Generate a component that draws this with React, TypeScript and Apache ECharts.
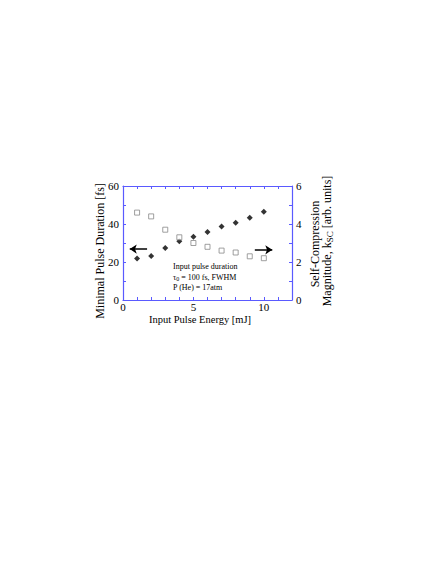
import React, { useEffect, useRef } from "react";
import * as echarts from "echarts";

const energies = [1, 2, 3, 4, 5, 6, 7, 8, 9, 10];
const pulseDuration = [21.9, 23.1, 27.4, 30.9, 33.3, 35.8, 38.7, 40.7, 43.3, 46.5];
const compression = [4.6, 4.4, 3.7, 3.3, 3.0, 2.8, 2.6, 2.5, 2.3, 2.2];
const leftArrow = [[1.71, 26.8], [0.48, 26.8]];
const rightArrow = [[9.36, 26.4], [10.6, 26.4]];

const FONT = "'Liberation Serif', 'DejaVu Serif', serif";
const BLUE = "#5a5aff";

export default function App() {
  const ref = useRef<HTMLDivElement>(null);
  useEffect(() => {
    const chart = echarts.init(ref.current!, null, { renderer: "svg" });
    const axisCommon = {
      axisLine: { show: true, onZero: false, lineStyle: { color: BLUE, width: 1.2 } },
      axisTick: { show: true, inside: true, length: 3, lineStyle: { color: BLUE } },
      splitLine: { show: false },
    };
    chart.setOption({
      animation: false,
      grid: { left: 123, top: 186, width: 169, height: 114 },
      xAxis: [
        {
          type: "value", min: 0, max: 12, interval: 1, position: "bottom",
          ...axisCommon,
          axisLabel: {
            color: "#000", fontFamily: FONT, fontSize: 11, margin: 1,
            formatter: (v: number) => (v % 5 === 0 ? String(v) : ""),
          },
        },
        {
          type: "value", min: 0, max: 12, interval: 1, position: "top",
          ...axisCommon, axisLabel: { show: false },
        },
      ],
      yAxis: [
        {
          type: "value", min: 0, max: 60, interval: 10, position: "left",
          ...axisCommon,
          axisLabel: {
            color: "#000", fontFamily: FONT, fontSize: 11, margin: 4,
            formatter: (v: number) => (v % 20 === 0 ? String(v) : ""),
          },
        },
        {
          type: "value", min: 0, max: 6, interval: 1, position: "right",
          ...axisCommon,
          axisLabel: {
            color: "#000", fontFamily: FONT, fontSize: 11, margin: 4,
            formatter: (v: number) => (v % 2 === 0 ? String(v) : ""),
          },
        },
      ],
      series: [
        {
          type: "scatter", xAxisIndex: 0, yAxisIndex: 0,
          data: energies.map((e, i) => [e, pulseDuration[i]]),
          symbol: "diamond", symbolSize: 6,
          itemStyle: { color: "#000" },
          markLine: {
            silent: true,
            symbol: ["none", "arrow"], symbolSize: [7, 7],
            lineStyle: { color: "#000", width: 1.5, type: "solid" },
            label: { show: false },
            data: [
              [{ coord: leftArrow[0] }, { coord: leftArrow[1] }],
              [{ coord: rightArrow[0] }, { coord: rightArrow[1] }],
            ],
          },
        },
        {
          type: "scatter", xAxisIndex: 0, yAxisIndex: 1,
          data: energies.map((e, i) => [e, compression[i]]),
          symbol: "rect", symbolSize: 5,
          itemStyle: { color: "#fff", borderColor: "#888", borderWidth: 1 },
        },
      ],
      graphic: [
        {
          type: "text", x: 200, y: 319,
          style: { text: "Input Pulse Energy [mJ]", fill: "#000", font: `10.5px ${FONT}`, align: "center", verticalAlign: "middle" },
        },
        {
          type: "text", x: 100, y: 251, rotation: Math.PI / 2,
          style: { text: "Minimal Pulse Duration [fs]", fill: "#000", font: `12px ${FONT}`, align: "center", verticalAlign: "middle" },
        },
        {
          type: "text", x: 315, y: 244, rotation: Math.PI / 2,
          style: { text: "Self-Compression", fill: "#000", font: `12px ${FONT}`, align: "center", verticalAlign: "middle" },
        },
        {
          type: "text", x: 327, y: 241, rotation: Math.PI / 2,
          style: {
            text: "{a|Magnitude, k}{s|SC}{a| [arb. units]}", fill: "#000", align: "center", verticalAlign: "middle",
            font: `12px ${FONT}`,
            rich: {
              a: { fontFamily: FONT, fontSize: 12, fill: "#000" },
              s: { fontFamily: FONT, fontSize: 9, fill: "#000", padding: [6, 0, 0, 0] },
            },
          },
        },
        {
          type: "text", x: 173, y: 262,
          style: { text: "Input pulse duration", fill: "#000", font: `8px ${FONT}` },
        },
        {
          type: "text", x: 173, y: 272,
          style: {
            text: "{a|τ}{s|0}{a| = 100 fs, FWHM}", fill: "#000", font: `8px ${FONT}`,
            rich: {
              a: { fontFamily: FONT, fontSize: 8, fill: "#000" },
              s: { fontFamily: FONT, fontSize: 6, fill: "#000", padding: [4, 0, 0, 0] },
            },
          },
        },
        {
          type: "text", x: 173, y: 283,
          style: { text: "P (He) = 17atm", fill: "#000", font: `8px ${FONT}` },
        },
      ],
    });
    return () => chart.dispose();
  }, []);
  return (
    <div style={{ position: "fixed", left: 0, top: 0, width: 443, height: 573, background: "#fff" }}>
      <div ref={ref} style={{ width: 443, height: 573 }} />
    </div>
  );
}
